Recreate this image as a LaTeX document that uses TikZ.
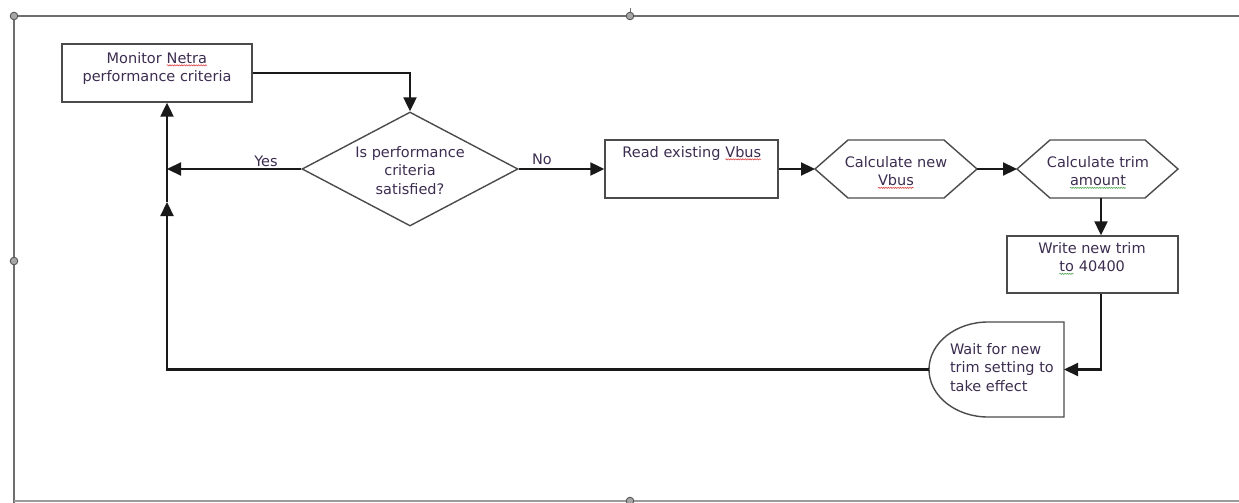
\documentclass[tikz,border=0pt]{standalone}
\usepackage{fontspec}
\setmainfont{DejaVu Sans}
\usetikzlibrary{arrows.meta,shapes.geometric,decorations.pathmorphing}
\definecolor{txtc}{RGB}{60,45,80}
\definecolor{boxc}{RGB}{75,75,75}
\definecolor{linec}{RGB}{25,25,25}
\definecolor{framec}{RGB}{110,110,110}
\definecolor{sqred}{RGB}{220,70,70}
\definecolor{sqgreen}{RGB}{90,170,90}
\newcommand\squig[2]{\tikz[baseline=(sqw.base)]{\node[inner sep=0pt,outer sep=0pt,draw=none,anchor=base] (sqw) at (0,0) {#2};\draw[#1,line width=0.6pt,decorate,decoration={snake,amplitude=0.6pt,segment length=2.4pt}] ([yshift=-2.3pt]sqw.base west) -- ([yshift=-2.3pt]sqw.base east);}}
\begin{document}
\begin{tikzpicture}[x=1pt,y=-1pt,
  box/.style={draw=boxc,line width=1.4pt},
  hold/.style={inner sep=0pt,outer sep=0pt,draw=none},
  txt/.style={inner sep=0pt,outer sep=0pt,text=txtc,font=\fontsize{14.5pt}{18.5pt}\selectfont,align=center},
  arr/.style={draw=linec,line width=2.2pt,-{Triangle[length=14pt,width=13pt]}},
  con/.style={draw=linec,line width=2.2pt},
  handle/.style={fill=gray!70,draw=framec!80!black,line width=0.9pt}]
\useasboundingbox (0,0) rectangle (1239,503);
% selection frame
\draw[framec,line width=1.6pt] (1239,16) -- (14,16) -- (14,503);
\draw[framec!70,line width=1.2pt] (14,501) -- (1239,501);
\draw[framec,line width=0.8pt] (630,8) -- (630,16);
\foreach \p in {(14,16),(630,16),(14,261),(630,501)} \filldraw[handle] \p circle (3.8pt);
% shapes
\node[box,rectangle,minimum width=190pt,minimum height=58pt,inner sep=0pt] (mon) at (157,73) {};
\node[box,diamond,minimum width=216pt,minimum height=114pt,inner sep=0pt] (dia) at (410,169) {};
\node[box,rectangle,minimum width=173pt,minimum height=58pt,inner sep=0pt] (read) at (691.5,169) {};
\node[hold,minimum width=162pt,minimum height=58pt] (h1) at (896,169) {};
\node[hold,minimum width=161pt,minimum height=58pt] (h2) at (1097.5,169) {};
\draw[box] (h1.west) -- ([xshift=33pt]h1.north west) -- ([xshift=-33pt]h1.north east) -- (h1.east) -- ([xshift=-33pt]h1.south east) -- ([xshift=33pt]h1.south west) -- cycle;
\draw[box] (h2.west) -- ([xshift=33pt]h2.north west) -- ([xshift=-33pt]h2.north east) -- (h2.east) -- ([xshift=-33pt]h2.south east) -- ([xshift=33pt]h2.south west) -- cycle;
\node[box,rectangle,minimum width=171pt,minimum height=57pt,inner sep=0pt] (wr) at (1092.5,264.5) {};
\node[hold,minimum width=135pt,minimum height=95pt] (wt) at (996.5,369.5) {};
\draw[box] (wt.north east) -- ([xshift=-76pt]wt.north east) arc[start angle=90,end angle=270,x radius=59pt,y radius=47.5pt] -- (wt.south east) -- cycle;
% texts
\node[txt,anchor=north] (tmon) at (157,52) {Monitor \squig{sqred}{Netra}\\performance criteria};
\node[txt,anchor=north] (tdia) at (410,146) {Is performance\\criteria\\satisfied?};
\node[txt,anchor=north] (tread) at (692,146) {Read existing \squig{sqred}{Vbus}};
\node[txt,anchor=north] (th1) at (896,156) {Calculate new\\\squig{sqred}{Vbus}};
\node[txt,anchor=north] (th2) at (1098,156) {Calculate trim\\\squig{sqgreen}{amount}};
\node[txt,anchor=north] (twr) at (1092,242) {Write new trim\\\squig{sqgreen}{to} 40400};
\node[txt,anchor=north west,align=left] (twt) at (950,343) {Wait for new\\trim setting to\\take effect};
\node[txt,anchor=base] (lyes) at (266,166) {Yes};
\node[txt,anchor=base] (lno) at (542,164) {No};
% connectors
\coordinate (j1) at (167,169);
\coordinate (j2) at (167,202);
\coordinate (xl) at (1101,0);
\draw[arr] (mon.east) -| (dia.north);
\draw[arr] (dia.west) -- (j1);
\draw[arr] (j1) -- (j1 |- mon.south);
\draw[arr] (dia.east) -- (read.west);
\draw[arr] (read.east) -- (h1.west);
\draw[arr] (h1.east) -- (h2.west);
\draw[arr] (xl |- h2.south) -- (xl |- wr.north);
\draw[arr] (xl |- wr.south) |- (wt.east);
\draw[arr] (wt.west) -| (j2);
\draw[con] (j2) -- (j1);
\end{tikzpicture}
\end{document}
